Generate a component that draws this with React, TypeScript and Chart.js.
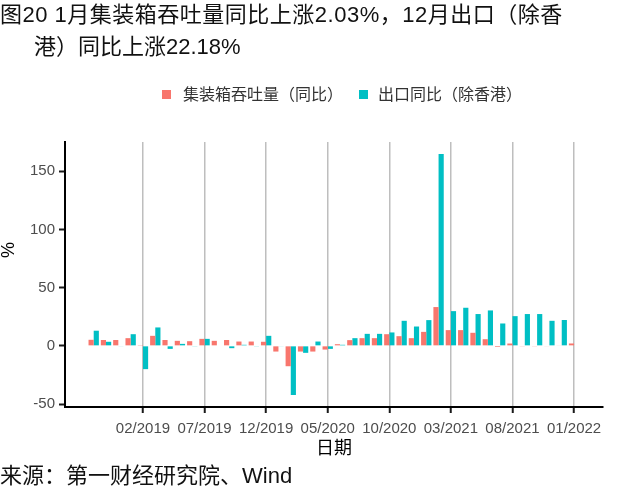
import React, { useEffect, useRef } from "react";
import { Chart, registerables } from "chart.js";
Chart.register(...registerables);

const months = [
  "10/2018", "11/2018", "12/2018",
  "01/2019", "02/2019", "03/2019", "04/2019", "05/2019", "06/2019",
  "07/2019", "08/2019", "09/2019", "10/2019", "11/2019", "12/2019",
  "01/2020", "02/2020", "03/2020", "04/2020", "05/2020", "06/2020",
  "07/2020", "08/2020", "09/2020", "10/2020", "11/2020", "12/2020",
  "01/2021", "02/2021", "03/2021", "04/2021", "05/2021", "06/2021",
  "07/2021", "08/2021", "09/2021", "10/2021", "11/2021", "12/2021",
  "01/2022",
];

const containerYoY = [
  5.2, 5.0, 5.0,
  6.6, 0.2, 8.6, 5.0, 4.3, 4.0,
  6.0, 4.3, 5.0, 3.7, 3.7, 3.5,
  -4.9, -17.5, -4.9, -4.9, -3.2, 1.4,
  4.9, 6.6, 6.6, 10.0, 8.3, 6.6,
  12.0, 33.3, 13.5, 13.5, 11.2, 5.7,
  -1.0, 2.0, -0.3, -0.3, -0.5, 0.5,
  2.03,
];

const exportYoY: (number | null)[] = [
  13.0, 3.5, -0.5,
  10.0, -20.0, 15.8, -2.6, 1.7, -0.3,
  6.0, 0.0, -2.0, 0.9, -0.3, 8.6,
  -0.5, -42.2, -6.0, 3.7, -2.6, 0.9,
  6.6, 10.3, 10.3, 11.5, 21.5, 16.6,
  22.1, 164.7, 29.8, 32.7, 27.3, 30.4,
  19.2, 25.5, 27.3, 27.3, 21.5, 22.18,
  null,
];

const xTickMonths = ["02/2019", "07/2019", "12/2019", "05/2020", "10/2020", "03/2021", "08/2021", "01/2022"];
const yTicks = [-50, 0, 50, 100, 150];

const seriesNames = ["集装箱吞吐量（同比）", "出口同比（除香港）"];
const seriesColors = ["#F8766D", "#00BFC4"];

const FONT = "'Liberation Sans', 'Noto Sans CJK SC', sans-serif";

export default function App() {
  const ref = useRef<HTMLCanvasElement>(null);

  useEffect(() => {
    if (!ref.current) return;
    const chart = new Chart(ref.current, {
      type: "bar",
      data: {
        datasets: [
          {
            label: seriesNames[0],
            data: containerYoY.map((v, i) => ({ x: i, y: v })),
            backgroundColor: seriesColors[0],
            borderWidth: 0,
            categoryPercentage: 0.84,
            barPercentage: 1,
          },
          {
            label: seriesNames[1],
            data: exportYoY.map((v, i) => ({ x: i, y: v })),
            backgroundColor: seriesColors[1],
            borderWidth: 0,
            categoryPercentage: 0.84,
            barPercentage: 1,
          },
        ],
      },
      options: {
        responsive: false,
        maintainAspectRatio: false,
        animation: false,
        layout: { padding: { top: 142, right: 37, bottom: 38, left: 0 } },
        plugins: { legend: { display: false }, tooltip: { enabled: false } },
        scales: {
          x: {
            type: "linear",
            min: -2.33,
            max: 41.35,
            offset: false,
            afterBuildTicks: (s: any) => {
              s.ticks = xTickMonths.map((m) => ({ value: months.indexOf(m) }));
            },
            afterFit: (s: any) => {
              s.height = 53;
            },
            ticks: {
              autoSkip: false,
              maxRotation: 0,
              minRotation: 0,
              color: "#4d4d4d",
              font: { size: 15, family: FONT },
              padding: 7,
              callback: (v: any) => months[Number(v)] ?? "",
            },
            grid: {
              offset: false,
              color: "#bebebe",
              lineWidth: 1.5,
              drawTicks: true,
              tickLength: 6,
              tickColor: "#1a1a1a",
              tickWidth: 2,
            },
            border: { display: true, color: "#000", width: 2 },
            title: {
              display: true,
              text: "日期",
              color: "#000",
              font: { size: 18, family: FONT },
              padding: 0,
            },
          },
          y: {
            min: -52.5,
            max: 175,
            afterBuildTicks: (s: any) => {
              s.ticks = yTicks.map((v) => ({ value: v }));
            },
            afterFit: (s: any) => {
              s.width = 65;
            },
            ticks: {
              color: "#4d4d4d",
              font: { size: 15, family: FONT },
              padding: 4,
            },
            grid: {
              drawOnChartArea: false,
              drawTicks: true,
              tickLength: 6,
              tickColor: "#1a1a1a",
              tickWidth: 2,
            },
            border: { display: true, color: "#000", width: 2 },
          },
        },
      },
    } as any);
    return () => chart.destroy();
  }, []);

  return (
    <div
      style={{
        position: "fixed",
        left: 0,
        top: 0,
        width: 640,
        height: 498,
        background: "#fff",
        fontFamily: FONT,
        overflow: "hidden",
      }}
    >
      <canvas ref={ref} width={640} height={498} style={{ position: "absolute", left: 0, top: 0 }} />
      <div style={{ position: "absolute", left: 0, top: 3, fontSize: 22, lineHeight: "24px", letterSpacing: "0.5px", color: "#111", whiteSpace: "nowrap" }}>
        图20 1月集装箱吞吐量同比上涨2.03%，12月出口（除香
      </div>
      <div style={{ position: "absolute", left: 34, top: 35, fontSize: 22, lineHeight: "24px", color: "#111", whiteSpace: "nowrap" }}>
        港）同比上涨22.18%
      </div>
      <div style={{ position: "absolute", left: 162, top: 90, width: 9, height: 9, background: seriesColors[0] }} />
      <div style={{ position: "absolute", left: 183, top: 85, fontSize: 16, lineHeight: "20px", color: "#333", whiteSpace: "nowrap" }}>
        {seriesNames[0]}
      </div>
      <div style={{ position: "absolute", left: 359, top: 90, width: 9, height: 9, background: seriesColors[1] }} />
      <div style={{ position: "absolute", left: 378, top: 85, fontSize: 16, lineHeight: "20px", color: "#333", whiteSpace: "nowrap" }}>
        {seriesNames[1]}
      </div>
      <div
        style={{
          position: "absolute",
          left: 8,
          top: 250,
          fontSize: 18,
          lineHeight: "20px",
          color: "#000",
          transform: "translate(-50%, -50%) rotate(-90deg)",
          whiteSpace: "nowrap",
        }}
      >
        %
      </div>
      <div style={{ position: "absolute", left: 0, top: 464, fontSize: 22, lineHeight: "24px", color: "#111", whiteSpace: "nowrap" }}>
        来源：第一财经研究院、Wind
      </div>
    </div>
  );
}
